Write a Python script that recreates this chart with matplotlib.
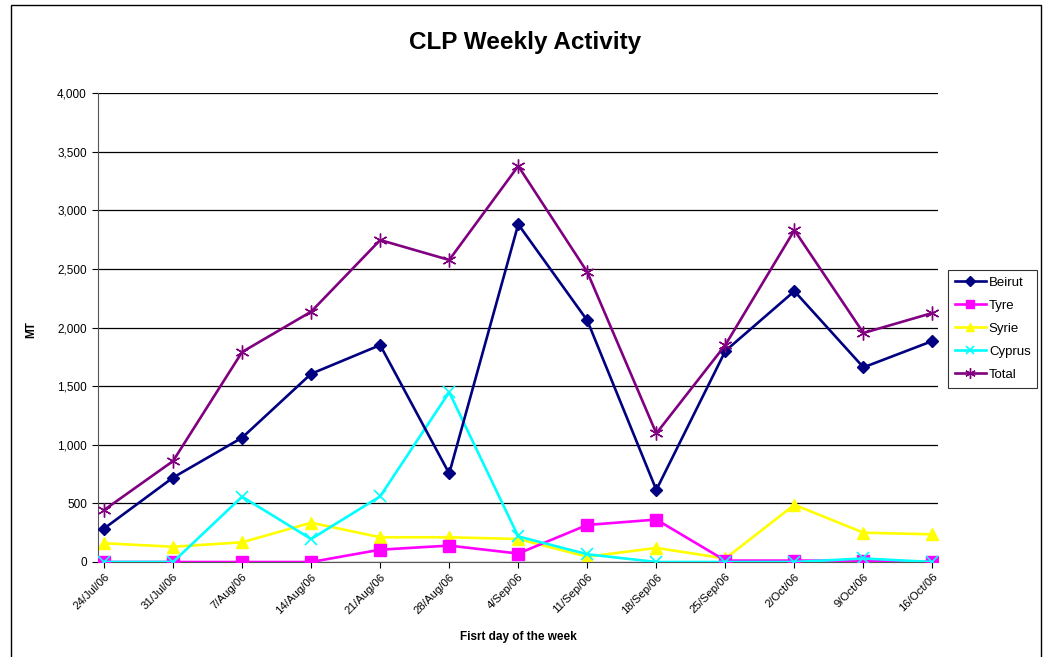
import matplotlib
matplotlib.use('Agg')
import numpy as np
from matplotlib import pyplot as plt
from matplotlib.patches import Rectangle
from matplotlib.ticker import FuncFormatter
from matplotlib.transforms import ScaledTranslation

plt.rcParams['font.family'] = ['Liberation Sans', 'DejaVu Sans']

# Datos
weeks = ['24/Jul/06', '31/Jul/06', '7/Aug/06', '14/Aug/06', '21/Aug/06', '28/Aug/06',
         '4/Sep/06', '11/Sep/06', '18/Sep/06', '25/Sep/06', '2/Oct/06', '9/Oct/06', '16/Oct/06']
beirut = [285, 720, 1060, 1605, 1850, 755, 2880, 2060, 615, 1800, 2310, 1660, 1885]
tyre = [0, 0, 0, 0, 105, 140, 72, 316, 362, 12, 12, 12, 0]
syrie = [160, 130, 168, 335, 211, 211, 196, 45, 120, 30, 488, 250, 236]
cyprus = [0, 0, 557, 196, 560, 1448, 218, 66, 0, 0, 0, 30, 0]
total = [443, 861, 1791, 2135, 2746, 2576, 3377, 2473, 1097, 1851, 2830, 1953, 2124]

fig = plt.figure(figsize=(10.48, 6.57), dpi=100)
ax = fig.add_axes([98/1048, 1-562/657, (938-98)/1048, (562-93)/657])

x = np.arange(len(weeks))
ax.plot(x, beirut, color='#000080', lw=1.9, marker='D', ms=6.5, label='Beirut', zorder=5)
ax.plot(x, tyre, color='#FF00FF', lw=1.9, marker='s', ms=8, label='Tyre', zorder=3)
ax.plot(x, syrie, color='#FFFF00', lw=1.9, marker='^', ms=8.5, label='Syrie', zorder=2)
ax.plot(x, cyprus, color='#00FFFF', lw=1.9, marker='x', ms=8, mew=1.2, label='Cyprus', zorder=4)
ax.plot(x, total, color='#800080', lw=1.9, marker=(6, 2, 0), ms=10, mew=1.0, label='Total', zorder=6)

ax.set_xlim(-0.087, 12.08)
ax.set_ylim(0, 4000)
ax.set_yticks(np.arange(0, 4001, 500))
ax.yaxis.set_major_formatter(FuncFormatter(lambda v, p: '{:,.0f}'.format(v)))
ax.set_xticks(x)
ax.set_xticklabels(weeks, rotation=45, ha='right', rotation_mode='anchor', fontsize=8.2)
shift = ScaledTranslation(-4/100, -2/100, fig.dpi_scale_trans)
for lbl in ax.get_xticklabels():
    lbl.set_transform(lbl.get_transform() + shift)
ax.tick_params(axis='y', labelsize=8.5, length=4, width=0.8, pad=4)
ax.tick_params(axis='x', length=4, width=0.8, pad=3)
ax.grid(axis='y', color='black', lw=0.9)
ax.set_axisbelow(True)
for s in ['top', 'right']:
    ax.spines[s].set_visible(False)
ax.spines['left'].set_color('#555555')
ax.spines['bottom'].set_color('#555555')

fig.text(525/1048, 1-42/657, 'CLP Weekly Activity', ha='center', va='center',
         fontsize=17.5, fontweight='bold')
fig.text(31/1048, 1-330/657, 'MT', ha='center', va='center', rotation=90,
         fontsize=8.5, fontweight='bold')
fig.text(518/1048, 1-637/657, 'Fisrt day of the week', ha='center', va='center',
         fontsize=8.5, fontweight='bold')

leg = ax.legend(loc='upper left', bbox_to_anchor=(948/1048, 1-270/657),
                bbox_transform=fig.transFigure, fontsize=9.5, frameon=True,
                fancybox=False, edgecolor='black', handlelength=2.4, markerscale=0.75,
                borderpad=0.5, labelspacing=0.82, handletextpad=0.2, borderaxespad=0)
leg.get_frame().set_linewidth(0.8)

# marco exterior
fig.patches.append(Rectangle((11/1048, -0.05), (1041-11)/1048, 1.05-5/657,
                             transform=fig.transFigure, fill=False,
                             edgecolor='black', lw=1.0))

fig.savefig('out.png', dpi=100)
